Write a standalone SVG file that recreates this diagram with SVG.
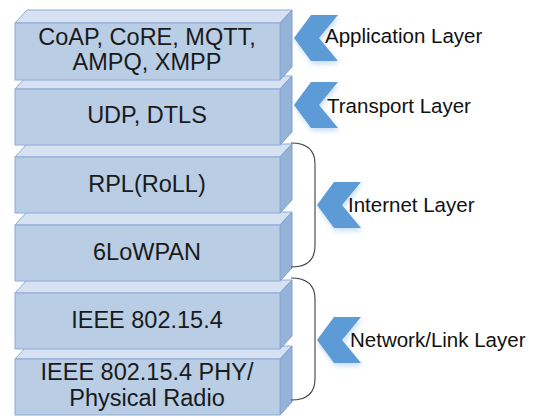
<svg xmlns="http://www.w3.org/2000/svg" width="533" height="418" viewBox="0 0 533 418">
  <defs>
    <style>
      .front { fill: #b9cde5; stroke: #8eaad6; stroke-width: 1; }
      .top { fill: #d6e1f1; stroke: #8eaad6; stroke-width: 1; }
      .side { fill: #95b3d7; stroke: #7f9fcf; stroke-width: 1; }
      .box-text { font-family: "Liberation Sans", Arial, sans-serif; font-size: 23.5px; fill: #1a1a1a; text-anchor: middle; }
      .layer-text { font-family: "Liberation Sans", Arial, sans-serif; font-size: 20.5px; fill: #111111; }
      .chevron { fill: #5b9bd5; filter: url(#glow); }
      .brace { fill: none; stroke: #404040; stroke-width: 1.1; }
    </style>
    <filter id="glow" x="-30%" y="-30%" width="160%" height="170%">
      <feGaussianBlur in="SourceAlpha" stdDeviation="2.5"/>
      <feOffset dx="1" dy="3" result="b"/>
      <feFlood flood-color="#9cc3ea" flood-opacity="0.55"/>
      <feComposite in2="b" operator="in"/>
      <feMerge>
        <feMergeNode/>
        <feMergeNode in="SourceGraphic"/>
      </feMerge>
    </filter>
  </defs>
  <rect width="533" height="418" fill="#ffffff"/>

  <!-- protocol stack, drawn bottom-up so upper slabs overlap lower ones -->
  <g id="phy">
    <polygon class="top" points="15,359 27,346 292,346 280,359"/>
    <polygon class="side" points="280,359 292,346 292,402 280,415"/>
    <rect class="front" x="15" y="359" width="265" height="56"/>
    <text class="box-text" x="147" y="380">IEEE 802.15.4 PHY/</text>
    <text class="box-text" x="147" y="406">Physical Radio</text>
  </g>
  <g id="mac">
    <polygon class="top" points="15,293 27,280 292,280 280,293"/>
    <polygon class="side" points="280,293 292,280 292,336 280,349"/>
    <rect class="front" x="15" y="293" width="265" height="56"/>
    <text class="box-text" x="147" y="328">IEEE 802.15.4</text>
  </g>
  <g id="lowpan">
    <polygon class="top" points="15,225 27,212 292,212 280,225"/>
    <polygon class="side" points="280,225 292,212 292,268 280,281"/>
    <rect class="front" x="15" y="225" width="265" height="56"/>
    <text class="box-text" x="147" y="260">6LoWPAN</text>
  </g>
  <g id="rpl">
    <polygon class="top" points="15,157 27,144 292,144 280,157"/>
    <polygon class="side" points="280,157 292,144 292,200 280,213"/>
    <rect class="front" x="15" y="157" width="265" height="56"/>
    <text class="box-text" x="147" y="192">RPL(RoLL)</text>
  </g>
  <g id="transport">
    <polygon class="top" points="15,89 27,76 292,76 280,89"/>
    <polygon class="side" points="280,89 292,76 292,132 280,145"/>
    <rect class="front" x="15" y="89" width="265" height="56"/>
    <text class="box-text" x="147" y="123">UDP, DTLS</text>
  </g>
  <g id="application">
    <polygon class="top" points="15,23 27,10 292,10 280,23"/>
    <polygon class="side" points="280,23 292,10 292,67 280,80"/>
    <rect class="front" x="15" y="23" width="265" height="57"/>
    <text class="box-text" x="147" y="45">CoAP, CoRE, MQTT,</text>
    <text class="box-text" x="147" y="70">AMPQ, XMPP</text>
  </g>

  <!-- brackets grouping slabs into layers -->
  <g id="connectors">
    <path class="brace" d="M291,143 C307,143 315,150 315,164 L315,246 C315,260 307,267 291,267"/>
    <path class="brace" d="M291,278 C307,278 315,285 315,299 L315,379 C315,393 307,400 291,400"/>
  </g>

  <!-- layer labels with chevron pointers -->
  <g id="label-application">
    <polygon class="chevron" points="294,38 311,15 338,15 319,38 338,61 311,61"/>
    <text class="layer-text" x="325" y="43">Application Layer</text>
  </g>
  <g id="label-transport">
    <polygon class="chevron" points="294,105 311,82 338,82 319,105 338,128 311,128"/>
    <text class="layer-text" x="327" y="113">Transport Layer</text>
  </g>
  <g id="label-internet">
    <polygon class="chevron" points="317,205 334,182 361,182 342,205 361,228 334,228"/>
    <text class="layer-text" x="348" y="212">Internet Layer</text>
  </g>
  <g id="label-link">
    <polygon class="chevron" points="317,340 334,317 361,317 342,340 361,363 334,363"/>
    <text class="layer-text" x="350" y="347">Network/Link Layer</text>
  </g>
</svg>
